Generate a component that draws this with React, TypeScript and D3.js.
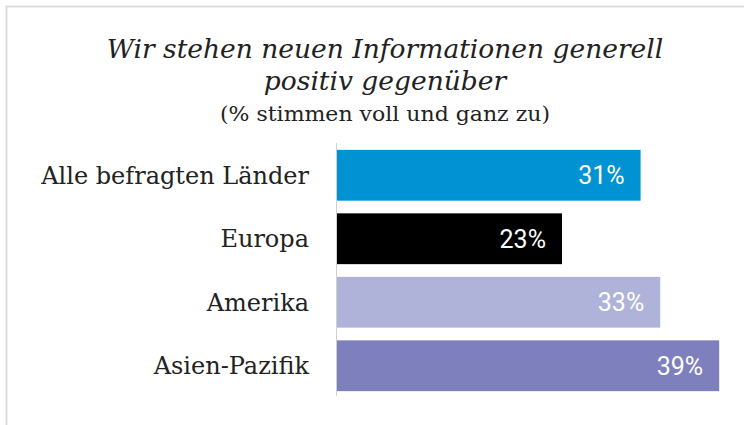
import React from 'react';
import * as d3 from 'd3';

const categories = ['Alle befragten Länder', 'Europa', 'Amerika', 'Asien-Pazifik'];
const values = [31, 23, 33, 39];
const colors = ['#0092d2', '#000000', '#b0b3d9', '#7e7fbd'];
const titleLines = ['Wir stehen neuen Informationen generell', 'positiv gegenüber'];
const subtitle = '(% stimmen voll und ganz zu)';

const width = 744, height = 425;

export default function App() {
    const x = d3.scaleLinear().domain([0, 40]).range([336, 729]);
    const y = d3.scaleBand().domain(categories).range([143, 398]).paddingInner(0.2).paddingOuter(0.108);

    return (
        <svg width={width} height={height} style={{position: 'absolute', left: 0, top: 0, background: '#fff'}}>
            <line x1={6} x2={width} y1={6.5} y2={6.5} stroke="#dcdcdc" strokeWidth={2} />
            <line x1={6.5} x2={6.5} y1={6} y2={height} stroke="#dcdcdc" strokeWidth={2} />
            {titleLines.map((t, i) => (
                <text key={t} x={385} y={58 + i * 32} textAnchor="middle" fontFamily="'DejaVu Serif'"
                      fontStyle="italic" fontSize={26.5} fill="#222">{t}</text>
            ))}
            <text x={385} y={121} textAnchor="middle" fontFamily="'DejaVu Serif'" fontSize={21} fill="#222"
                  textLength={330} lengthAdjust="spacingAndGlyphs">
                {subtitle}
            </text>
            {categories.map((c, i) => (
                <g key={c}>
                    <rect x={x(0)} y={y(c)} width={x(values[i]) - x(0)} height={y.bandwidth()} fill={colors[i]} />
                    <text x={309} y={y(c)! + y.bandwidth() / 2} dy="0.35em" textAnchor="end"
                          fontFamily="'DejaVu Serif'" fontSize={24} fill="#222">{c}</text>
                    <text x={x(values[i]) - 16} y={y(c)! + y.bandwidth() / 2} dy="0.36em" textAnchor="end"
                          fontFamily="Roboto" fontWeight={400} fontSize={25} fill="#fff">{values[i]}%</text>
                </g>
            ))}
            <line x1={336.5} x2={336.5} y1={143} y2={396} stroke="#d0d0d0" strokeWidth={1} />
        </svg>
    );
}
